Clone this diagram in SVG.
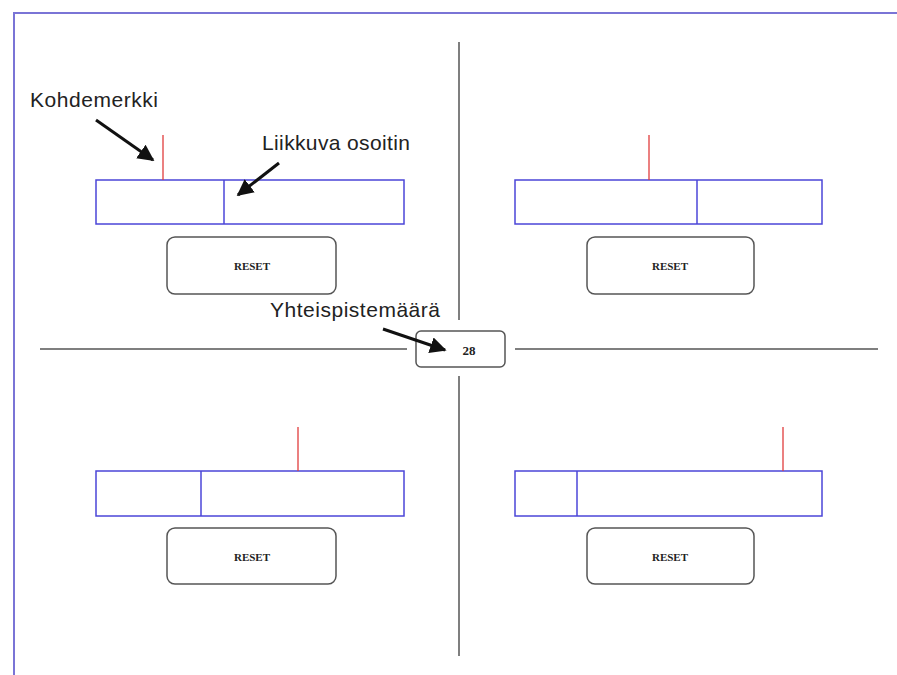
<svg xmlns="http://www.w3.org/2000/svg" width="897" height="675" viewBox="0 0 897 675">
  <defs>
    <marker id="arrow" viewBox="0 0 10 10" refX="9" refY="5" markerWidth="5.5" markerHeight="5.5" orient="auto" markerUnits="strokeWidth">
      <path d="M0,0 L10,5 L0,10 z" fill="#111"/>
    </marker>
    <style>
      .frame { fill: none; stroke: #7a74d6; stroke-width: 2; }
      .divider { stroke: #555; stroke-width: 1.5; fill: none; }
      .bar { fill: #fff; stroke: #4b46d8; stroke-width: 1.5; }
      .slider { stroke: #4b46d8; stroke-width: 1.5; }
      .target { stroke: #e03c3c; stroke-width: 1.3; }
      .btn { fill: #fff; stroke: #555; stroke-width: 1.5; }
      .btn-text { font-family: "Liberation Serif", serif; font-weight: bold; font-size: 11px; fill: #222; text-anchor: middle; }
      .label { font-family: "Liberation Sans", Arial, sans-serif; font-size: 21px; fill: #222; }
      .pointer { stroke: #111; stroke-width: 3; fill: none; marker-end: url(#arrow); }
    </style>
  </defs>

  <rect width="897" height="675" fill="#fff"/>

  <!-- outer frame -->
  <path class="frame" d="M14,675 L14,13 L897,13"/>

  <!-- quadrant dividers -->
  <g id="dividers">
    <line class="divider" x1="459" y1="42" x2="459" y2="320"/>
    <line class="divider" x1="459" y1="376" x2="459" y2="656"/>
    <line class="divider" x1="40" y1="349" x2="407" y2="349"/>
    <line class="divider" x1="515" y1="349" x2="878" y2="349"/>
  </g>

  <!-- top-left gauge -->
  <g id="gauge-tl">
    <rect class="bar" x="96" y="180" width="308" height="44"/>
    <line class="slider" x1="224" y1="180" x2="224" y2="224"/>
    <line class="target" x1="163" y1="135" x2="163" y2="180"/>
  </g>
  <g id="reset-tl">
    <rect class="btn" x="167" y="237" width="169" height="57" rx="8"/>
    <text class="btn-text" x="252" y="270">RESET</text>
  </g>

  <!-- top-right gauge -->
  <g id="gauge-tr">
    <rect class="bar" x="515" y="180" width="307" height="44"/>
    <line class="slider" x1="697" y1="180" x2="697" y2="224"/>
    <line class="target" x1="649" y1="135" x2="649" y2="180"/>
  </g>
  <g id="reset-tr">
    <rect class="btn" x="587" y="237" width="167" height="57" rx="8"/>
    <text class="btn-text" x="670" y="270">RESET</text>
  </g>

  <!-- bottom-left gauge -->
  <g id="gauge-bl">
    <rect class="bar" x="96" y="471" width="308" height="45"/>
    <line class="slider" x1="201" y1="471" x2="201" y2="516"/>
    <line class="target" x1="298" y1="427" x2="298" y2="471"/>
  </g>
  <g id="reset-bl">
    <rect class="btn" x="167" y="528" width="169" height="56" rx="8"/>
    <text class="btn-text" x="252" y="561">RESET</text>
  </g>

  <!-- bottom-right gauge -->
  <g id="gauge-br">
    <rect class="bar" x="515" y="471" width="307" height="45"/>
    <line class="slider" x1="577" y1="471" x2="577" y2="516"/>
    <line class="target" x1="783" y1="427" x2="783" y2="471"/>
  </g>
  <g id="reset-br">
    <rect class="btn" x="587" y="528" width="167" height="56" rx="8"/>
    <text class="btn-text" x="670" y="561">RESET</text>
  </g>

  <!-- total score box -->
  <g id="score">
    <rect class="btn" x="416" y="331" width="89" height="36" rx="5"/>
    <text class="btn-text" x="469" y="355" style="font-size:13px">28</text>
  </g>

  <!-- annotation labels -->
  <g id="labels">
    <text class="label" x="30" y="107" textLength="128">Kohdemerkki</text>
    <text class="label" x="262" y="150" textLength="148">Liikkuva osoitin</text>
    <text class="label" x="270" y="317" textLength="170">Yhteispistemäärä</text>
  </g>

  <!-- annotation arrows -->
  <g id="connectors">
    <line class="pointer" x1="96" y1="120" x2="153" y2="160"/>
    <line class="pointer" x1="279" y1="163" x2="238" y2="195"/>
    <line class="pointer" x1="383" y1="329" x2="445" y2="350"/>
  </g>
</svg>
